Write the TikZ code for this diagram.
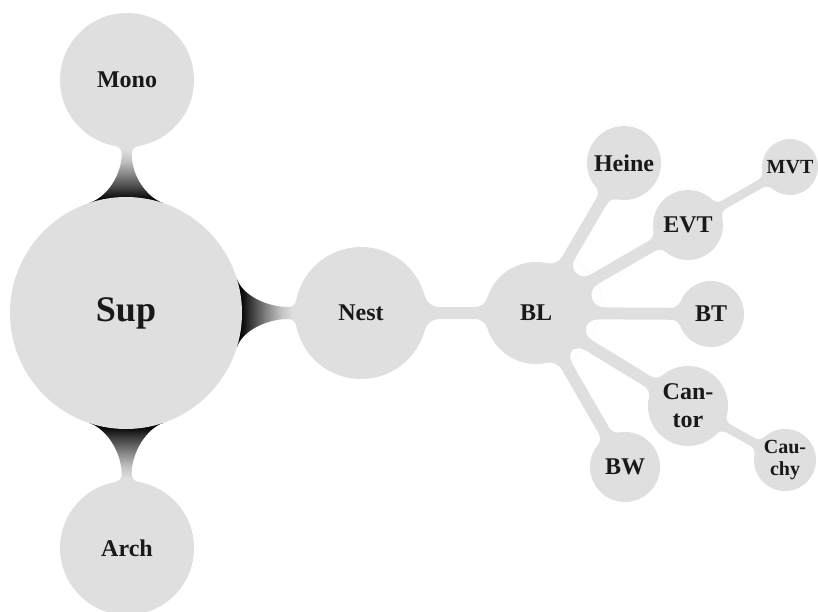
\documentclass[tikz,border=0pt]{standalone}
\usepackage{fontspec}
\setmainfont{Liberation Serif}
\usetikzlibrary{calc,backgrounds}
\definecolor{nodeg}{gray}{0.875}
\definecolor{txt}{gray}{0.1}
\definecolor{sgA}{gray}{0.25}
\definecolor{sgB}{gray}{0.52}
\definecolor{sgC}{gray}{0.76}
\pgfdeclareverticalshading{neckUp}{100bp}{color(0bp)=(black); color(28bp)=(black); color(38bp)=(sgA); color(50bp)=(sgB); color(62bp)=(sgC); color(72bp)=(nodeg); color(100bp)=(nodeg)}
\pgfdeclareverticalshading{neckDown}{100bp}{color(0bp)=(nodeg); color(28bp)=(nodeg); color(38bp)=(sgC); color(50bp)=(sgB); color(62bp)=(sgA); color(72bp)=(black); color(100bp)=(black)}
\pgfdeclarehorizontalshading{neckRight}{100bp}{color(0bp)=(black); color(28bp)=(black); color(38bp)=(sgA); color(50bp)=(sgB); color(62bp)=(sgC); color(72bp)=(nodeg); color(100bp)=(nodeg)}
% points: distance s from A (or B) along the axis, offset t to one side
\newcommand\PA[4]{($(#1)!#3pt!(#2)!#4pt!90:(#2)$)}
\newcommand\MA[4]{($(#1)!#3pt!(#2)!#4pt!-90:(#2)$)}
\newcommand\PB[4]{($(#2)!#3pt!(#1)!#4pt!-90:(#1)$)}
\newcommand\MB[4]{($(#2)!#3pt!(#1)!#4pt!90:(#1)$)}
% light branch: A, B, rA, rB, half width, fillet A, fillet B
\newcommand\branch[7]{%
 \pgfmathsetmacro\brHA{#5+#6}\pgfmathsetmacro\brLA{#3+#6}%
 \pgfmathsetmacro\brSA{sqrt(\brLA*\brLA-\brHA*\brHA)}%
 \pgfmathsetmacro\brPAs{\brSA*#3/\brLA}\pgfmathsetmacro\brPAt{\brHA*#3/\brLA}%
 \pgfmathsetmacro\brKA{4/3*tan(acos(\brHA/\brLA)/4)*#6}%
 \pgfmathsetmacro\brCAs{\brPAs+\brKA*\brHA/\brLA}\pgfmathsetmacro\brCAt{\brPAt-\brKA*\brSA/\brLA}%
 \pgfmathsetmacro\brDA{\brSA-\brKA}%
 \pgfmathsetmacro\brHB{#5+#7}\pgfmathsetmacro\brLB{#4+#7}%
 \pgfmathsetmacro\brSB{sqrt(\brLB*\brLB-\brHB*\brHB)}%
 \pgfmathsetmacro\brPBs{\brSB*#4/\brLB}\pgfmathsetmacro\brPBt{\brHB*#4/\brLB}%
 \pgfmathsetmacro\brKB{4/3*tan(acos(\brHB/\brLB)/4)*#7}%
 \pgfmathsetmacro\brCBs{\brPBs+\brKB*\brHB/\brLB}\pgfmathsetmacro\brCBt{\brPBt-\brKB*\brSB/\brLB}%
 \pgfmathsetmacro\brDB{\brSB-\brKB}%
 \fill[nodeg] \PA{#1}{#2}{\brPAs}{\brPAt} .. controls \PA{#1}{#2}{\brCAs}{\brCAt} and \PA{#1}{#2}{\brDA}{#5} .. \PA{#1}{#2}{\brSA}{#5}
  -- \PB{#1}{#2}{\brSB}{#5} .. controls \PB{#1}{#2}{\brDB}{#5} and \PB{#1}{#2}{\brCBs}{\brCBt} .. \PB{#1}{#2}{\brPBs}{\brPBt}
  -- \MB{#1}{#2}{\brPBs}{\brPBt} .. controls \MB{#1}{#2}{\brCBs}{\brCBt} and \MB{#1}{#2}{\brDB}{#5} .. \MB{#1}{#2}{\brSB}{#5}
  -- \MA{#1}{#2}{\brSA}{#5} .. controls \MA{#1}{#2}{\brDA}{#5} and \MA{#1}{#2}{\brCAs}{\brCAt} .. \MA{#1}{#2}{\brPAs}{\brPAt} -- cycle;}
% dark neck: A, B, rA, rB, waist half width, fillet B, cusp half width, shading
\newcommand\darkneck[8]{%
 \pgfmathsetmacro\dnC{sqrt((#3)*(#3)-(#7)*(#7))}%
 \pgfmathsetmacro\dnQs{\dnC+18*(#7)/(#3)}\pgfmathsetmacro\dnQt{#7-18*\dnC/(#3)}%
 \pgfmathsetmacro\dnH{#5+#6}\pgfmathsetmacro\dnL{#4+#6}%
 \pgfmathsetmacro\dnS{sqrt(\dnL*\dnL-\dnH*\dnH)}%
 \pgfmathsetmacro\dnPs{\dnS*#4/\dnL}\pgfmathsetmacro\dnPt{\dnH*#4/\dnL}%
 \pgfmathsetmacro\dnK{4/3*tan(acos(\dnH/\dnL)/4)*#6}%
 \pgfmathsetmacro\dnCs{\dnPs+\dnK*\dnH/\dnL}\pgfmathsetmacro\dnCt{\dnPt-\dnK*\dnS/\dnL}%
 \pgfmathsetmacro\dnD{\dnS-\dnK}\pgfmathsetmacro\dnF{\dnS+22}%
 \shade[shading=#8] \PA{#1}{#2}{\dnC}{#7} .. controls \PA{#1}{#2}{\dnQs}{\dnQt} and \PB{#1}{#2}{\dnF}{#5} .. \PB{#1}{#2}{\dnS}{#5}
  .. controls \PB{#1}{#2}{\dnD}{#5} and \PB{#1}{#2}{\dnCs}{\dnCt} .. \PB{#1}{#2}{\dnPs}{\dnPt}
  -- \MB{#1}{#2}{\dnPs}{\dnPt} .. controls \MB{#1}{#2}{\dnCs}{\dnCt} and \MB{#1}{#2}{\dnD}{#5} .. \MB{#1}{#2}{\dnS}{#5}
  .. controls \MB{#1}{#2}{\dnF}{#5} and \MA{#1}{#2}{\dnQs}{\dnQt} .. \MA{#1}{#2}{\dnC}{#7} -- cycle;}
% web between two neighbouring branches of A: A, B1, B2, distance of the round end, its radius
\newcommand\gapfill[5]{%
 \coordinate (gpU) at ($(#1)!#4pt!(#2)$);
 \coordinate (gpV) at ($(#1)!#4pt!(#3)$);
 \coordinate (gpM) at ($(gpU)!0.5!(gpV)$);
 \coordinate (gpC) at ($(#1)!#4pt!(gpM)$);
 \begin{scope}
 \clip (#1.center) -- (gpU) -- (gpV) -- cycle;
 \fill[nodeg, even odd rule] (#1.center) -- (gpU) -- (gpV) -- cycle (gpC) circle (#5pt);
 \end{scope}}
\tikzset{
 bub/.style={circle, fill=nodeg, inner sep=0pt, text=txt, align=center,
   font=\bfseries\fontsize{24}{28}\selectfont},
 bigtxt/.style={font=\bfseries\fontsize{36}{40}\selectfont},
 smalltxt/.style={font=\bfseries\fontsize{20}{22}\selectfont}
}
\begin{document}
\begin{tikzpicture}[x=1pt,y=-1pt]
\useasboundingbox (0,0) rectangle (818,612);
\node[bub, bigtxt, minimum size=232pt] (Sup) at (126,313) {Sup};
\node[bub, minimum size=134pt] (Mono) at (127,80) {Mono};
\node[bub, minimum size=134pt] (Arch) at (127,548) {Arch};
\node[bub, minimum size=132pt] (Nest) at (361,313) {Nest};
\node[bub, minimum size=102pt] (BL) at (536,313) {BL};
\node[bub, minimum size=74pt] (Heine) at (624,163) {Heine};
\node[bub, minimum size=70pt] (EVT) at (688,225) {EVT};
\node[bub, smalltxt, minimum size=56pt] (MVT) at (790,167) {MVT};
\node[bub, minimum size=66pt] (BT) at (711,314) {BT};
\node[bub, minimum size=80pt] (Cantor) at (688,406) {Can-\\tor};
\node[bub, smalltxt, minimum size=62pt] (Cauchy) at (785,460) {Cau-\\chy};
\node[bub, minimum size=70pt] (BW) at (625,467) {BW};
\begin{pgfonlayer}{background}
\darkneck{Sup}{Mono}{116}{67}{5}{8}{37}{neckUp}
\darkneck{Sup}{Arch}{116}{67}{5}{8}{37}{neckDown}
\darkneck{Sup}{Nest}{116}{66}{6}{8}{35}{neckRight}
\branch{Nest}{BL}{66}{51}{6}{15}{13}
\branch{BL}{Heine}{51}{37}{6}{14}{10}
\branch{BL}{EVT}{51}{35}{6}{14}{10}
\branch{BL}{BT}{51}{33}{6}{14}{10}
\branch{BL}{Cantor}{51}{40}{6}{14}{10}
\branch{BL}{BW}{51}{35}{6}{14}{10}
\gapfill{BL}{Heine}{EVT}{68}{11.4}
\gapfill{BL}{EVT}{BT}{70}{12.3}
\gapfill{BL}{BT}{Cantor}{63}{10.9}
\gapfill{BL}{Cantor}{BW}{61}{9}
\branch{EVT}{MVT}{35}{28}{4.5}{8}{8}
\branch{Cantor}{Cauchy}{40}{31}{4.5}{8}{8}
\end{pgfonlayer}
\end{tikzpicture}
\end{document}
